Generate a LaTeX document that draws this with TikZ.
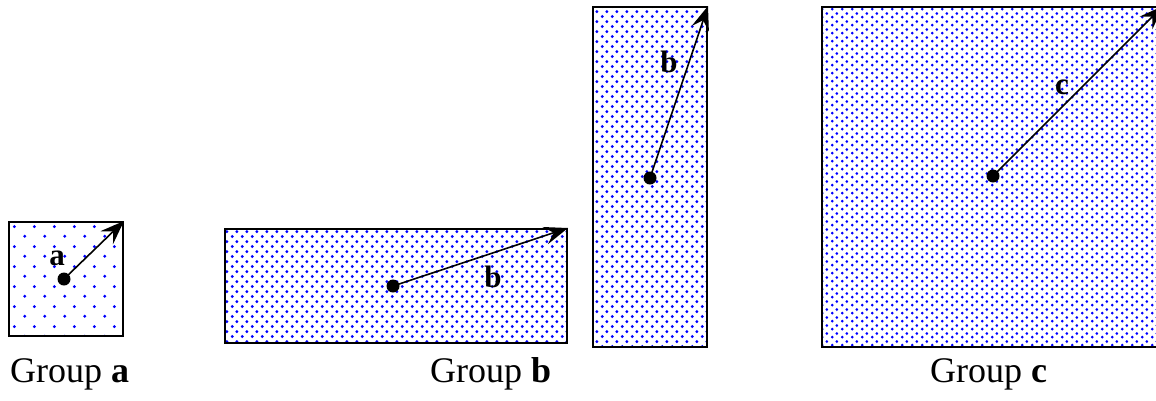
\documentclass[tikz,border=0pt]{standalone}
\usepackage{fontspec}
\setmainfont{Liberation Serif}
\usetikzlibrary{arrows.meta,patterns}

\pgfdeclarepatternformonly{latticeA}{\pgfqpoint{0pt}{0pt}}{\pgfqpoint{20pt}{20pt}}{\pgfqpoint{20pt}{20pt}}{%
  \pgfpathcircle{\pgfqpoint{5pt}{5pt}}{1.7pt}%
  \pgfpathcircle{\pgfqpoint{15pt}{15pt}}{1.7pt}%
  \pgfusepath{fill}}
\pgfdeclarepatternformonly{latticeB}{\pgfqpoint{0pt}{0pt}}{\pgfqpoint{10pt}{10.4pt}}{\pgfqpoint{10pt}{10.4pt}}{%
  \pgfpathcircle{\pgfqpoint{2.5pt}{2.6pt}}{1.7pt}%
  \pgfpathcircle{\pgfqpoint{7.5pt}{7.8pt}}{1.7pt}%
  \pgfusepath{fill}}
\pgfdeclarepatternformonly{latticeC}{\pgfqpoint{0pt}{0pt}}{\pgfqpoint{10pt}{7.6pt}}{\pgfqpoint{10pt}{7.6pt}}{%
  \pgfpathcircle{\pgfqpoint{2.5pt}{1.9pt}}{1.6pt}%
  \pgfpathcircle{\pgfqpoint{7.5pt}{5.7pt}}{1.6pt}%
  \pgfusepath{fill}}

\begin{document}
\begin{tikzpicture}[x=1pt,y=-1pt,>={Stealth[length=24pt,width=18pt,inset=9pt]},
  cell/.style={draw,line width=2pt,pattern color=blue,inner sep=0pt},
  origin/.style={circle,fill=black,inner sep=0pt,minimum size=13pt},
  vec/.style={->,line width=1.6pt},
  veclab/.style={font=\fontsize{31}{34}\selectfont\bfseries},
  grouplab/.style={anchor=base west,inner sep=0pt,font=\fontsize{36}{40}\selectfont}]
\useasboundingbox (0,0) rectangle (1156,400);
\node[cell,pattern=latticeA,minimum width=114pt,minimum height=114pt] (boxA) at (66,279) {};
\node[cell,pattern=latticeB,minimum width=342pt,minimum height=114pt] (boxBh) at (396,286) {};
\node[cell,pattern=latticeB,minimum width=114pt,minimum height=340pt] (boxBv) at (650,177) {};
\node[cell,pattern=latticeC,minimum width=340pt,minimum height=340pt] (boxC) at (992,177) {};
\node[origin] (dotA) at (64,279) {};
\node[origin] (dotBh) at (393,286) {};
\node[origin] (dotBv) at (650,178) {};
\node[origin] (dotC) at (993,176) {};
\draw[vec] (dotA.center) -- (boxA.north east);
\draw[vec] (dotBh.center) -- (boxBh.north east);
\draw[vec] (dotBv.center) -- (boxBv.north east);
\draw[vec] (dotC.center) -- (boxC.north east);
\node[veclab] (labA) at (57,258) {a};
\node[veclab] (labBh) at (493,277) {b};
\node[veclab] (labBv) at (669,62) {b};
\node[veclab] (labC) at (1062,87) {c};
\node[grouplab] (grpA) at (10,382) {Group \textbf{a}};
\node[grouplab] (grpB) at (430,382) {Group \textbf{b}};
\node[grouplab] (grpC) at (930,382) {Group \textbf{c}};
\end{tikzpicture}
\end{document}
